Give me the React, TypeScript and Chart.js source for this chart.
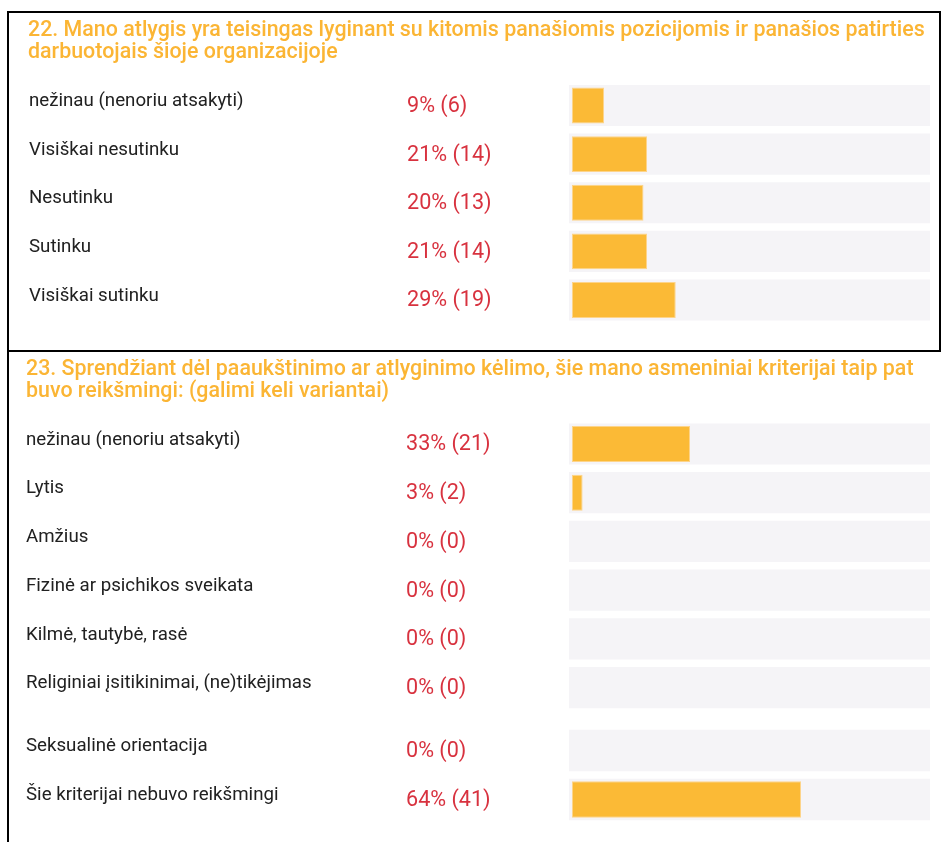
import React, { useEffect, useRef } from "react";
import { Chart, registerables } from "chart.js";

Chart.register(...registerables);

// ---- Data ----
const q22Title = [
  "22. Mano atlygis yra teisingas lyginant su kitomis panašiomis pozicijomis ir panašios patirties",
  "darbuotojais šioje organizacijoje",
];
const q22Labels = [
  "nežinau (nenoriu atsakyti)",
  "Visiškai nesutinku",
  "Nesutinku",
  "Sutinku",
  "Visiškai sutinku",
];
const q22Percent = [9, 21, 20, 21, 29];
const q22Counts = [6, 14, 13, 14, 19];

const q23Title = [
  "23. Sprendžiant dėl paaukštinimo ar atlyginimo kėlimo, šie mano asmeniniai kriterijai taip pat",
  "buvo reikšmingi: (galimi keli variantai)",
];
const q23Labels = [
  "nežinau (nenoriu atsakyti)",
  "Lytis",
  "Amžius",
  "Fizinė ar psichikos sveikata",
  "Kilmė, tautybė, rasė",
  "Religiniai įsitikinimai, (ne)tikėjimas",
  "Seksualinė orientacija",
  "Šie kriterijai nebuvo reikšmingi",
];
const q23Percent = [33, 3, 0, 0, 0, 0, 0, 64];
const q23Counts = [21, 2, 0, 0, 0, 0, 0, 41];

const axisMin = -0.8;
const axisMax = 100;

// ---- Styles ----
const BAR_COLOR = "#fbba36";
const BAR_BORDER = "#fdd48a";
const TRACK_COLOR = "#f5f4f7";
const TITLE_COLOR = "#fbb534";
const LABEL_COLOR = "#212121";
const VALUE_COLOR = "#d8323f";
const TITLE_FONT = "500 22px Roboto";
const TITLE_SCALE_X = 0.973;
const LABEL_FONT = "400 18.7px Roboto";
const VALUE_FONT = "400 21.6px Roboto";

type BlockProps = {
  top: number;
  height: number;
  title?: string[];
  titleX?: number;
  labels: string[];
  percents: number[];
  counts: number[];
  labelX: number;
  valueX: number;
  padTop: number;
  padBottom: number;
};

function BarBlock(props: BlockProps) {
  const ref = useRef<HTMLCanvasElement | null>(null);
  useEffect(() => {
    const canvas = ref.current;
    if (!canvas) return;
    const { labels, percents, counts, title, titleX, labelX, valueX, padTop, padBottom } = props;

    const textPlugin = {
      id: "rowText",
      afterDatasetsDraw(chart: any) {
        const ctx = chart.ctx as CanvasRenderingContext2D;
        ctx.save();
        if (title) {
          ctx.fillStyle = TITLE_COLOR;
          ctx.font = TITLE_FONT;
          ctx.textAlign = "left";
          ctx.textBaseline = "middle";
          title.forEach((line, i) => {
            ctx.save();
            ctx.translate(titleX || 0, 17.5 + i * 21.5);
            ctx.scale(TITLE_SCALE_X, 1);
            ctx.fillText(line, 0, 0);
            ctx.restore();
          });
        }
        const meta = chart.getDatasetMeta(0);
        meta.data.forEach((bar: any, i: number) => {
          const y = bar.y;
          ctx.textAlign = "left";
          ctx.textBaseline = "middle";
          ctx.fillStyle = LABEL_COLOR;
          ctx.font = LABEL_FONT;
          ctx.fillText(String(chart.data.labels[i]), labelX, y - 4);
          ctx.fillStyle = VALUE_COLOR;
          ctx.font = VALUE_FONT;
          ctx.fillText(`${percents[i]}% (${counts[i]})`, valueX, y + 1);
        });
        ctx.restore();
      },
    };

    const chart = new Chart(canvas, {
      type: "bar",
      data: {
        labels,
        datasets: [
          {
            data: percents,
            backgroundColor: BAR_COLOR,
            borderColor: BAR_BORDER,
            borderWidth: 1,
            borderSkipped: false,
            barPercentage: 0.74,
            categoryPercentage: 1,
            grouped: false,
            order: 0,
          } as any,
          {
            data: labels.map(() => [axisMin, axisMax]),
            backgroundColor: TRACK_COLOR,
            borderWidth: 0,
            barPercentage: 0.845,
            categoryPercentage: 1,
            grouped: false,
            order: 1,
          } as any,
        ],
      },
      options: {
        indexAxis: "y",
        animation: false,
        responsive: false,
        maintainAspectRatio: false,
        events: [],
        layout: { padding: { left: 0, right: 12, top: padTop, bottom: padBottom } },
        scales: {
          x: { display: false, min: axisMin, max: axisMax },
          y: {
            display: true,
            afterFit: (s: any) => {
              s.width = 569;
            },
            ticks: { display: false },
            grid: { display: false },
            border: { display: false },
          },
        },
        plugins: {
          legend: { display: false },
          tooltip: { enabled: false },
          title: { display: false },
        },
      } as any,
      plugins: [textPlugin],
    });
    return () => chart.destroy();
  }, []);
  return (
    <canvas
      ref={ref}
      width={942}
      height={props.height}
      style={{ position: "absolute", left: 0, top: props.top, width: 942, height: props.height, display: "block" }}
    />
  );
}

const line = (left: number, top: number, width: number, height: number) => (
  <div style={{ position: "absolute", left, top, width, height, background: "#000" }} />
);

export default function App() {
  return (
    <div
      style={{
        position: "absolute",
        left: 0,
        top: 0,
        width: 942,
        height: 842,
        background: "#fff",
        overflow: "hidden",
      }}
    >
      <BarBlock
        top={13}
        height={337}
        title={q22Title}
        titleX={28}
        labels={q22Labels}
        percents={q22Percent}
        counts={q22Counts}
        labelX={29}
        valueX={407}
        padTop={68.2}
        padBottom={25.7}
      />
      <BarBlock
        top={352}
        height={360}
        title={q23Title}
        titleX={26}
        labels={q23Labels.slice(0, 6)}
        percents={q23Percent.slice(0, 6)}
        counts={q23Counts.slice(0, 6)}
        labelX={26}
        valueX={406}
        padTop={67.6}
        padBottom={0}
      />
      <BarBlock
        top={712}
        height={130}
        labels={q23Labels.slice(6)}
        percents={q23Percent.slice(6)}
        counts={q23Counts.slice(6)}
        labelX={26}
        valueX={406}
        padTop={14}
        padBottom={18}
      />
      {line(7, 11, 934, 2)}
      {line(7, 11, 2, 831)}
      {line(939, 11, 2, 340)}
      {line(7, 350, 934, 2)}
    </div>
  );
}
